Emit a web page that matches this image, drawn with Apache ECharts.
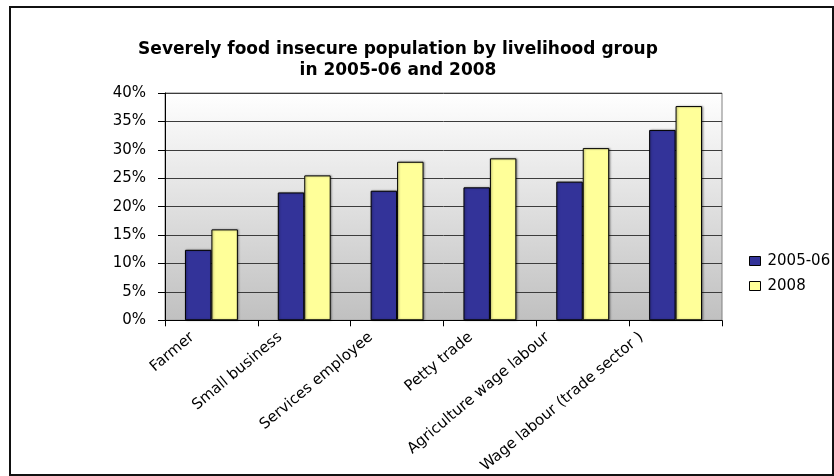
<!DOCTYPE html>
<html>
<head>
<meta charset="utf-8">
<script src="https://cdn.jsdelivr.net/npm/echarts@6/dist/echarts.min.js"></script>
<style>
html,body{margin:0;padding:0;background:#fff;}
#chart{width:834px;height:476px;}
</style>
</head>
<body>
<div id="chart"></div>
<script>
var titleLines = ['Severely food insecure population by livelihood group', 'in 2005-06 and 2008'];
var categories = ['Farmer', 'Small business', 'Services employee', 'Petty trade', 'Agriculture wage labour', 'Wage labour (trade sector )'];
var seriesNames = ['2005-06', '2008'];
var values0506 = [0.124, 0.225, 0.228, 0.234, 0.244, 0.335];
var values2008 = [0.160, 0.255, 0.279, 0.285, 0.303, 0.377];
var yTicks = [0, 0.05, 0.10, 0.15, 0.20, 0.25, 0.30, 0.35, 0.40];

var FONT = '"DejaVu Sans", Verdana, sans-serif';

// extra leftward shift (px, horizontal) of each rotated category label, as in the original layout
var labelShift = [0, 5, 7, 0, 16, 15];
var labelRich = {};
labelShift.forEach(function (d, i) {
  var a = d / 1.306;           // along-baseline component
  var b = 0.839 * a;           // perpendicular component
  labelRich['s' + i] = {
    fontFamily: FONT, fontSize: 15, color: '#000',
    padding: [0, Math.round(a * 10) / 10, Math.round(2 * b * 10) / 10, 0]
  };
});

var chart = echarts.init(document.getElementById('chart'), null, {renderer: 'canvas'});
var option = {
  backgroundColor: '#ffffff',
  animation: false,
  title: {
    text: titleLines.join('\n'),
    left: 393, top: 34, textAlign: 'center',
    textStyle: {fontFamily: FONT, fontWeight: 'bold', fontSize: 17, color: '#000', lineHeight: 21}
  },
  graphic: [{
    type: 'rect', shape: {x: 10, y: 7, width: 823, height: 468},
    style: {stroke: '#111', lineWidth: 2, fill: null}, silent: true, z: 10
  }],
  legend: {
    orient: 'vertical', left: 744, top: 248,
    itemWidth: 11, itemHeight: 9, itemGap: 9,
    icon: 'rect',
    itemStyle: {borderColor: '#000', borderWidth: 1},
    textStyle: {fontFamily: FONT, fontSize: 15, lineHeight: 16, color: '#000', padding: [0, 0, 0, 2]},
    data: seriesNames
  },
  grid: {
    left: 165, right: 112, top: 93, bottom: 148,
    show: true,
    borderColor: '#808080', borderWidth: 1,
    backgroundColor: new echarts.graphic.LinearGradient(0, 0, 0, 1, [
      {offset: 0, color: '#ffffff'}, {offset: 1, color: '#c0c0c0'}
    ])
  },
  xAxis: {
    type: 'category', data: categories,
    axisLine: {lineStyle: {color: '#000', width: 1}},
    axisTick: {show: true, length: 6, lineStyle: {color: '#000'}},
    axisLabel: {
      rotate: 40, margin: -1, interval: 0,
      fontFamily: FONT, fontSize: 15, color: '#000', padding: [0, 25, 0, 0],
      formatter: function (value, idx) { return '{s' + idx + '|' + value + '}'; },
      rich: labelRich
    }
  },
  yAxis: {
    type: 'value', min: 0, max: 0.4, interval: 0.05,
    axisLine: {show: true, lineStyle: {color: '#000', width: 1}},
    axisTick: {show: true, length: 7, lineStyle: {color: '#000'}},
    axisLabel: {
      margin: 19, fontFamily: FONT, fontSize: 15, color: '#000',
      formatter: function (v) { return Math.round(v * 100) + '%'; }
    },
    splitLine: {lineStyle: {color: '#3c3c3c', width: 1}}
  },
  series: [
    {
      name: seriesNames[0], type: 'bar', data: values0506,
      barGap: '0%', barCategoryGap: '43%',
      itemStyle: {color: '#333399', borderColor: '#000', borderWidth: 1,
        shadowColor: 'rgba(0,0,0,0.35)', shadowBlur: 2, shadowOffsetX: 1, shadowOffsetY: 0}
    },
    {
      name: seriesNames[1], type: 'bar', data: values2008,
      barGap: '0%', barCategoryGap: '43%',
      itemStyle: {color: '#ffff99', borderColor: '#000', borderWidth: 1,
        shadowColor: 'rgba(0,0,0,0.35)', shadowBlur: 2, shadowOffsetX: 1, shadowOffsetY: 0}
    }
  ]
};
chart.setOption(option);
</script>
</body>
</html>
